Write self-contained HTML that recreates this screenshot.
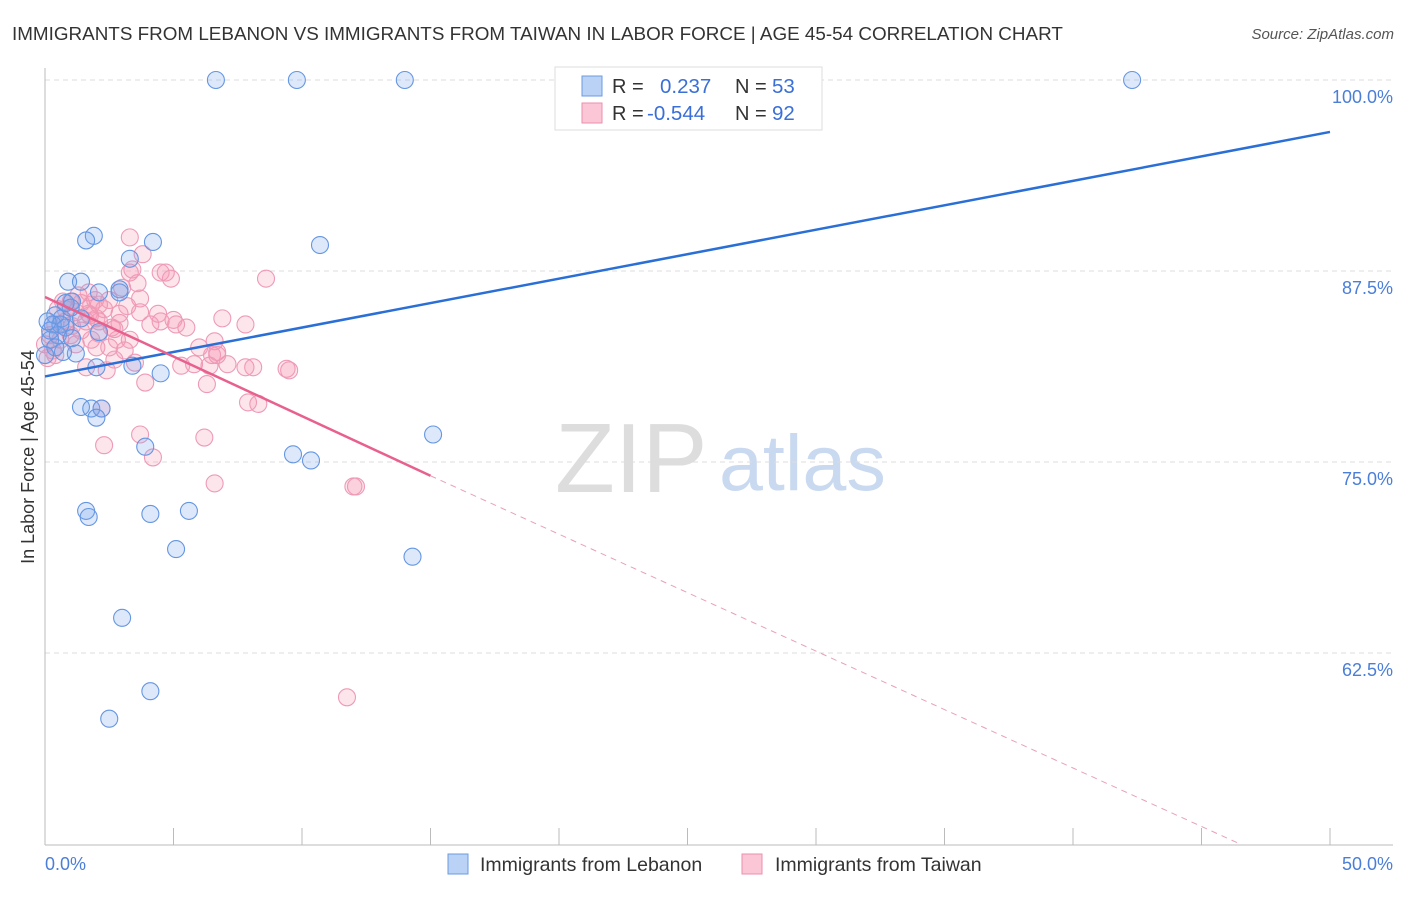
<!DOCTYPE html>
<html><head><meta charset="utf-8"><style>
body{margin:0;background:#fff;font-family:"Liberation Sans",sans-serif}
svg text{font-family:"Liberation Sans",sans-serif}
</style></head><body>
<svg id="chart" width="1406" height="892">
<text x="12" y="40" font-size="18.85" fill="#333">IMMIGRANTS FROM LEBANON VS IMMIGRANTS FROM TAIWAN IN LABOR FORCE | AGE 45-54 CORRELATION CHART</text>
<text x="1394" y="39" font-size="15" fill="#555" font-style="italic" text-anchor="end">Source: ZipAtlas.com</text>
<text x="555" y="492" font-size="98" fill="#ddd" font-family="Liberation Serif">ZIP</text>
<text x="719" y="490" font-size="79" fill="#c9d9f0">atlas</text>
<text transform="translate(34,457) rotate(-90)" font-size="18" fill="#333" text-anchor="middle">In Labor Force | Age 45-54</text>
<g id="grid"></g><g id="axes"></g><g id="pts"></g><g id="lines"></g>
<g>
<rect x="555" y="67" width="267" height="63" fill="#fff" stroke="#ddd"/>
<rect x="582" y="76" width="20" height="20" fill="#b9d2f5" stroke="#6a9be0"/>
<rect x="582" y="103" width="20" height="20" fill="#fbc7d6" stroke="#eb8fae"/>
<text x="612" y="93" font-size="20" fill="#333">R = </text><text x="660" y="93" font-size="20.5" fill="#3a6fd8">0.237</text>
<text x="735" y="93" font-size="20" fill="#333">N = </text><text x="772" y="93" font-size="20.5" fill="#3a6fd8">53</text>
<text x="612" y="120" font-size="20" fill="#333">R = </text><text x="647" y="120" font-size="20.5" fill="#3a6fd8">-0.544</text>
<text x="735" y="120" font-size="20" fill="#333">N = </text><text x="772" y="120" font-size="20.5" fill="#3a6fd8">92</text>
</g>
<g>
<rect x="448" y="854" width="20" height="20" fill="#b9d2f5" stroke="#6a9be0"/>
<text x="480" y="871" font-size="19.5" fill="#333">Immigrants from Lebanon</text>
<rect x="742" y="854" width="20" height="20" fill="#fbc7d6" stroke="#eb8fae"/>
<text x="775" y="871" font-size="19.5" fill="#333">Immigrants from Taiwan</text>
</g>
<text x="45" y="870" font-size="18" fill="#4a7ed8">0.0%</text>
<text x="1393" y="870" font-size="18" fill="#4a7ed8" text-anchor="end">50.0%</text>
</svg>
<script>
const yTicks=[100,87.5,75,62.5];
const yTickLabels=["100.0%","87.5%","75.0%","62.5%"];
const xTicks=[0,5,10,15,20,25,30,35,40,45,50];
const lebX=[6.65,9.8,14.0,42.3,1.9,1.6,4.2,10.7,3.3,0.9,1.4,2.1,2.9,1.05,0.4,0.65,0.3,0.8,0.5,1.05,2.1,0.2,1.2,0.7,2.0,3.4,4.5,1.4,1.8,2.2,2.0,3.9,15.1,9.65,10.35,1.6,1.7,4.1,5.6,5.1,14.3,3.0,4.1,2.5,0.2,0.6,0.1,0.4,1.4,1.0,2.9,0.0,0.8];
const lebY=[100,100,100,100,89.8,89.5,89.4,89.2,88.3,86.8,86.8,86.1,86.3,85.5,84.6,84.4,84.0,83.8,83.3,83.1,83.5,83.0,82.1,82.2,81.2,81.3,80.8,78.6,78.5,78.5,77.9,76.0,76.8,75.5,75.1,71.8,71.4,71.6,71.8,69.3,68.8,64.8,60.0,58.2,83.6,84.0,84.2,82.5,84.4,85.1,86.1,82.0,85.4];
const twX=[3.3,3.8,3.3,3.4,4.5,4.7,4.9,8.6,3.6,3.0,3.7,2.5,2.1,1.8,1.4,1.0,0.7,0.5,1.2,1.7,4.4,6.9,2.9,5.0,4.5,5.5,2.9,2.6,2.1,1.4,1.8,2.8,6.6,3.1,6.5,6.7,6.7,2.0,0.3,0.1,2.7,3.5,5.3,5.8,6.4,7.1,7.8,8.1,9.4,9.5,1.6,2.4,3.9,6.3,7.9,8.3,2.2,3.7,6.2,2.3,4.2,6.6,12.0,12.1,11.75,0.4,0.8,0.2,0.6,0,1.05,1.6,1.95,2.3,2.7,3.3,3.7,4.1,0.8,1.3,1.7,2.1,2.5,0.4,1.2,1.75,5.1,6.0,7.8,1.0,3.2,2.0];
const twY=[89.7,88.6,87.4,87.6,87.4,87.4,87.0,87.0,86.7,86.4,85.7,85.6,85.3,85.3,85.4,85.5,85.5,85.0,84.8,84.7,84.7,84.4,84.7,84.3,84.2,83.8,84.1,83.8,83.4,83.6,83.0,83.0,82.9,82.3,82.0,82.0,82.2,82.5,82.3,81.8,81.7,81.5,81.3,81.4,81.3,81.4,81.2,81.2,81.1,81.0,81.2,81.0,80.2,80.1,78.9,78.8,78.5,76.8,76.6,76.1,75.3,73.6,73.4,73.4,59.6,84.0,84.2,83.3,83.0,82.7,83.9,84.2,85.6,85.0,83.7,83.0,84.8,84.0,85.0,85.9,86.1,84.2,82.5,82.0,82.7,84.6,84.0,82.5,84.0,83.3,85.2,84.4];
const lebLine=[[0,80.6],[50,96.6]];
const twLine=[[0,85.8],[15,74.1]];
const twDash=[[15,74.1],[46.5,50]];
const X=v=>45+v*25.7, Y=v=>80+(100-v)*15.28;
const NS="http://www.w3.org/2000/svg";
function mk(p,t,a){const e=document.createElementNS(NS,t);for(const k in a)e.setAttribute(k,a[k]);document.getElementById(p).appendChild(e);return e;}
yTicks.forEach((t,i)=>{
 const g=mk('grid','line',{x1:45,x2:1393,y1:Y(t),y2:Y(t),stroke:'#ddd','stroke-dasharray':'5,4'});
 
 
 const l=mk('grid','text',{x:1393,y:Y(t)+23,'font-size':18,fill:'#4a7ed8','text-anchor':'end'});
 l.textContent=yTickLabels[i];
 
 
});
let a=mk('axes','line',{x1:45,x2:45,y1:68,y2:845,stroke:'#bbb'});


a=mk('axes','line',{x1:45,x2:1393,y1:845,y2:845,stroke:'#bbb'});


xTicks.forEach(t=>{const e=mk('axes','line',{x1:X(t),x2:X(t),y1:828,y2:845,stroke:'#bbb'});
 
 });
twX.forEach((v,i)=>{const c=mk('pts','circle',{cx:X(v),cy:Y(twY[i]),r:8.5,fill:'rgba(246,150,178,0.25)',stroke:'#ee9ab6','stroke-width':1.1});
 
 });
lebX.forEach((v,i)=>{const c=mk('pts','circle',{cx:X(v),cy:Y(lebY[i]),r:8.5,fill:'rgba(120,165,235,0.25)',stroke:'#6496e2','stroke-width':1.1});
 
 });
let ln=mk('lines','line',{x1:X(lebLine[0][0]),y1:Y(lebLine[0][1]),x2:X(lebLine[1][0]),y2:Y(lebLine[1][1]),stroke:'#2a6fd6','stroke-width':2.5});


ln=mk('lines','line',{x1:X(twLine[0][0]),y1:Y(twLine[0][1]),x2:X(twLine[1][0]),y2:Y(twLine[1][1]),stroke:'#e8608e','stroke-width':2.5});


ln=mk('lines','line',{x1:X(twDash[0][0]),y1:Y(twDash[0][1]),x2:X(twDash[1][0]),y2:Y(twDash[1][1]),stroke:'#e8a0b8','stroke-width':1,'stroke-dasharray':'6,5'});


</script>
</body></html>
